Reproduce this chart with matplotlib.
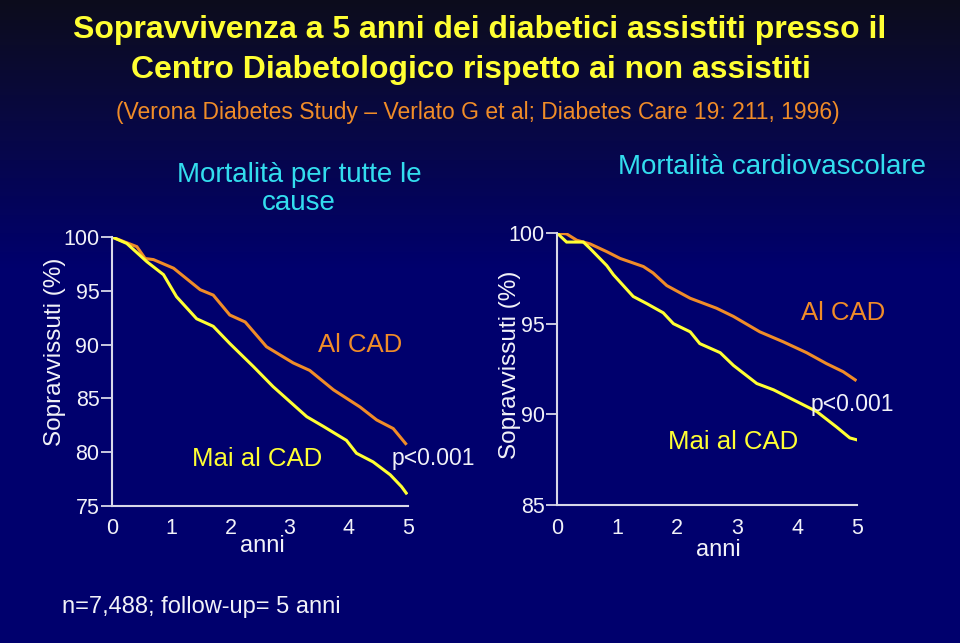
import numpy as np
import matplotlib.pyplot as plt

# Kaplan-Meier curves (anni, % sopravvissuti)
all_x_cad = [0, 0.42, 0.56, 0.70, 1.04, 1.49, 1.71, 1.99, 2.25, 2.61, 3.06, 3.34, 3.74, 4.19, 4.47, 4.75, 4.96]
all_y_cad = [100, 99.1, 98.0, 97.9, 97.1, 95.1, 94.6, 92.75, 92.1, 89.8, 88.3, 87.6, 85.8, 84.2, 83.0, 82.2, 80.8]
all_x_mai = [0, 0.25, 0.59, 0.87, 1.09, 1.43, 1.71, 1.99, 2.39, 2.72, 3.29, 3.57, 3.96, 4.13, 4.41, 4.70, 4.89, 4.97]
all_y_mai = [100, 99.4, 97.7, 96.5, 94.45, 92.4, 91.7, 90.1, 87.95, 86.1, 83.3, 82.4, 81.1, 79.9, 79.1, 77.9, 76.8, 76.2]

cv_x_cad = [0, 0.16, 0.33, 0.55, 0.83, 1.05, 1.44, 1.60, 1.83, 2.22, 2.66, 2.94, 3.38, 3.77, 4.16, 4.49, 4.77, 4.97]
cv_y_cad = [100, 99.95, 99.6, 99.4, 98.97, 98.6, 98.15, 97.8, 97.1, 96.4, 95.85, 95.4, 94.55, 94.0, 93.4, 92.8, 92.35, 91.9]
cv_x_mai = [0, 0.16, 0.44, 0.55, 0.83, 0.94, 1.27, 1.50, 1.77, 1.94, 2.22, 2.38, 2.72, 2.94, 3.33, 3.61, 3.94, 4.33, 4.66, 4.88, 4.99]
cv_y_mai = [100, 99.5, 99.5, 99.15, 98.2, 97.7, 96.5, 96.1, 95.6, 95.0, 94.55, 93.9, 93.4, 92.7, 91.7, 91.35, 90.8, 90.15, 89.3, 88.7, 88.6]

years = [0, 1, 2, 3, 4, 5]

ORANGE = "#F08C28"
YELLOW = "#FFFF33"
CYAN = "#33DDEE"
WHITE = "#F2F2F8"
FONT = "Liberation Sans"

W, H = 960, 643
fig = plt.figure(figsize=(W / 100, H / 100), dpi=100)


def px(x, y):
    return x / W, 1 - y / H


def label(x, y, s, **kw):
    kw.setdefault("family", FONT)
    kw.setdefault("ha", "center")
    kw.setdefault("va", "center")
    fig.text(*px(x, y), s, **kw)


# background gradient
bg = fig.add_axes([0, 0, 1, 1], zorder=-10)
rows = np.linspace(0, 1, 256)
top = np.array([0.05, 0.05, 0.11])
mid = np.array([0.03, 0.03, 0.27])
bot = np.array([0.0, 0.0, 0.43])
grad = np.where(rows[:, None] < 0.2,
                top + (mid - top) * (rows[:, None] / 0.2),
                mid + (bot - mid) * np.clip((rows[:, None] - 0.2) / 0.22, 0, 1))
bg.imshow(grad[:, None, :].repeat(2, axis=1), aspect="auto", extent=[0, 1, 0, 1], origin="upper")
bg.axis("off")


def panel(rect, ylo, yticks, xs_cad, ys_cad, xs_mai, ys_mai):
    ax = fig.add_axes(rect)
    ax.set_facecolor("none")
    ax.plot(xs_cad, ys_cad, color=ORANGE, lw=2.2, solid_joinstyle="miter")
    ax.plot(xs_mai, ys_mai, color=YELLOW, lw=2.2, solid_joinstyle="miter")
    ax.set_xlim(0, 5)
    ax.set_ylim(ylo, 100)
    ax.set_xticks(years)
    ax.set_xticklabels([str(y) for y in years])
    ax.set_yticks(yticks)
    for s in ["top", "right"]:
        ax.spines[s].set_visible(False)
    for s in ["left", "bottom"]:
        ax.spines[s].set_color("#D8D8E8")
        ax.spines[s].set_linewidth(1.5)
    ax.tick_params(axis="y", direction="out", length=8, width=1.3, color="#D8D8E8",
                   labelcolor=WHITE, labelsize=15.5, pad=1)
    ax.tick_params(axis="x", length=0, labelcolor=WHITE, labelsize=15.5, pad=9)
    for t in ax.get_xticklabels() + ax.get_yticklabels():
        t.set_family(FONT)
    return ax


panel([112 / W, 1 - 506 / H, 296 / W, 269 / H], 75, [75, 80, 85, 90, 95, 100],
      all_x_cad, all_y_cad, all_x_mai, all_y_mai)
panel([557 / W, 1 - 505 / H, 300 / W, 272 / H], 85, [85, 90, 95, 100],
      cv_x_cad, cv_y_cad, cv_x_mai, cv_y_mai)

# titles
label(480, 30, "Sopravvivenza a 5 anni dei diabetici assistiti presso il", color=YELLOW,
      fontsize=23, fontweight="bold")
label(471, 70, "Centro Diabetologico rispetto ai non assistiti", color=YELLOW,
      fontsize=23, fontweight="bold")
label(478, 112, "(Verona Diabetes Study \u2013 Verlato G et al; Diabetes Care 19: 211, 1996)",
      color=ORANGE, fontsize=16.5)

label(299, 189, "Mortalità per tutte le\ncause", color=CYAN, fontsize=20, linespacing=1.1)
label(772, 167, "Mortalità cardiovascolare", color=CYAN, fontsize=20)

# axis labels
label(55, 352, "Sopravvissuti (%)", color=WHITE, fontsize=17.5, rotation=90)
label(510, 365, "Sopravvissuti (%)", color=WHITE, fontsize=17.5, rotation=90)
label(262, 546, "anni", color=WHITE, fontsize=17)
label(718, 550, "anni", color=WHITE, fontsize=17)

# annotations
label(360, 345, "Al CAD", color=ORANGE, fontsize=18.5)
label(257, 459, "Mai al CAD", color=YELLOW, fontsize=18.5)
label(433, 459, "p<0.001", color=WHITE, fontsize=16.5)
label(843, 313, "Al CAD", color=ORANGE, fontsize=18.5)
label(852, 405, "p<0.001", color=WHITE, fontsize=16.5)
label(733, 442, "Mai al CAD", color=YELLOW, fontsize=18.5)

label(62, 607, "n=7,488; follow-up= 5 anni", color=WHITE, fontsize=17, ha="left")

fig.savefig("out.png", dpi=100)
